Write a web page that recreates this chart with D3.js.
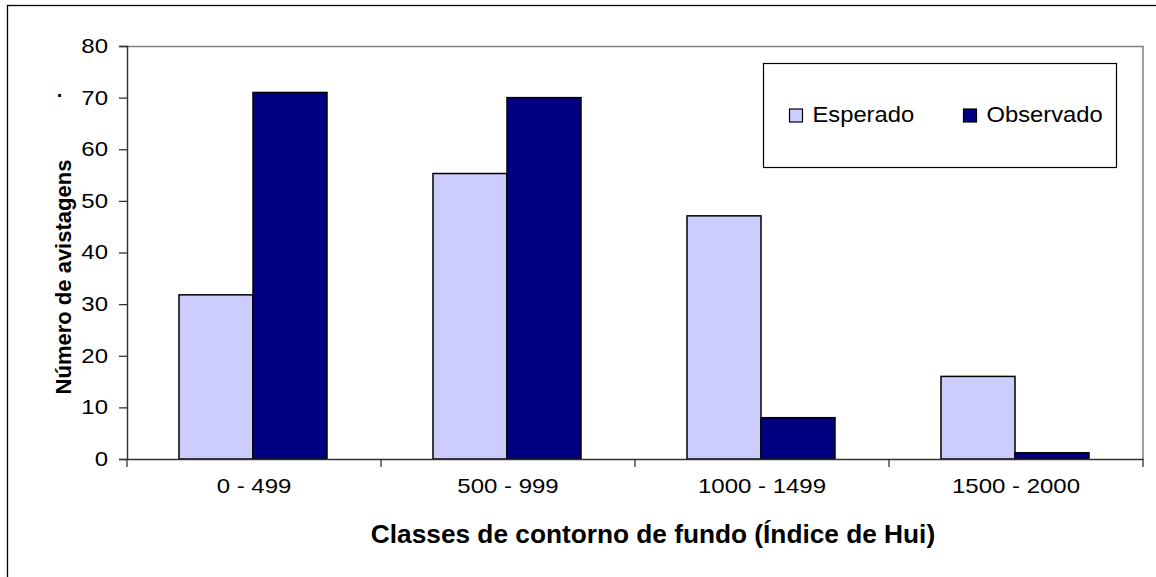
<!DOCTYPE html>
<html lang="pt">
<head>
  <meta charset="UTF-8">
  <title>Número de avistagens por classe de contorno de fundo</title>
  <script src="https://d3js.org/d3.v7.min.js"></script>
  <style>
    body { margin: 0; background: #fff; }
    svg { font-family: "Liberation Sans", Arial, sans-serif; }
  </style>
</head>
<body>
<div id="chart"></div>
<script>
  // data
  var classes = ["0 - 499", "500 - 999", "1000 - 1499", "1500 - 2000"];
  var esperado = [31.8, 55.3, 47.1, 16];
  var observado = [71, 70, 8, 1.2];
  var seriesNames = ["Esperado", "Observado"];
  var yTicks = [0, 10, 20, 30, 40, 50, 60, 70, 80];

  var W = 1156, H = 577;
  var margin = { top: 46, right: 13, bottom: 118, left: 127 },
    width = W - margin.left - margin.right,
    height = H - margin.top - margin.bottom;

  var colors = { Esperado: "#ccccff", Observado: "#000080" };
  // the source text is a bit wider than normal Arial
  var stretch = 1.2;

  var svg = d3.select("#chart").append("svg")
    .attr("width", W)
    .attr("height", H);

  // outer chart frame (runs off the right and bottom of the picture)
  svg.append("rect")
    .attr("x", 7.5).attr("y", 5.5)
    .attr("width", W + 10).attr("height", H + 10)
    .attr("fill", "none")
    .attr("stroke", "#000")
    .attr("stroke-width", 1.3);

  var g = svg.append("g")
    .attr("transform", "translate(" + margin.left + "," + margin.top + ")");

  var x0 = d3.scaleBand().domain(classes).range([0, width]);
  var x1 = d3.scaleBand().domain(seriesNames).range([52, 52 + 148]);
  var y = d3.scaleLinear().domain([0, 80]).range([height, 0]);

  // plot area top and right borders
  g.append("path")
    .attr("d", "M0,0.5H" + width + "V" + height)
    .attr("fill", "none")
    .attr("stroke", "#808080")
    .attr("stroke-width", 1.5);

  // bars
  var rows = classes.map(function(c, i) {
    return { cls: c, values: [
      { key: "Esperado", value: esperado[i] },
      { key: "Observado", value: observado[i] }
    ] };
  });

  var groups = g.selectAll(".grp")
    .data(rows)
    .enter().append("g")
    .attr("class", "grp")
    .attr("transform", function(d) { return "translate(" + x0(d.cls) + ",0)"; });

  groups.selectAll("rect")
    .data(function(d) { return d.values; })
    .enter().append("rect")
    .attr("x", function(d) { return x1(d.key); })
    .attr("y", function(d) { return y(d.value); })
    .attr("width", x1.bandwidth())
    .attr("height", function(d) { return height - y(d.value); })
    .attr("fill", function(d) { return colors[d.key]; })
    .attr("stroke", "#000")
    .attr("stroke-width", 1.5);

  // Y axis
  var yAxis = g.append("g")
    .call(d3.axisLeft(y).tickValues(yTicks).tickSize(8).tickPadding(11));
  yAxis.select(".domain").attr("stroke", "#333").attr("stroke-width", 1.5);
  yAxis.selectAll(".tick line").attr("stroke", "#333").attr("stroke-width", 1.3);
  yAxis.selectAll("text")
    .attr("font-size", "20px")
    .attr("fill", "#000")
    .attr("x", -19 / stretch)
    .attr("transform", "scale(" + stretch + ",1)");

  // X axis with ticks at category boundaries
  var xAxis = g.append("g")
    .attr("transform", "translate(0," + height + ")")
    .call(d3.axisBottom(x0).tickSize(0).tickPadding(20));
  xAxis.select(".domain").attr("stroke", "#333").attr("stroke-width", 1.5);
  xAxis.selectAll("text")
    .attr("font-size", "20px")
    .attr("fill", "#000")
    .attr("transform", "scale(" + stretch + ",1)");
  xAxis.selectAll(".bound")
    .data(classes.concat(["end"]))
    .enter().append("line")
    .attr("class", "bound")
    .attr("x1", function(d, i) { return i * x0.step(); })
    .attr("x2", function(d, i) { return i * x0.step(); })
    .attr("y1", 0).attr("y2", 8)
    .attr("stroke", "#333")
    .attr("stroke-width", 1.3);

  // axis titles
  svg.append("g")
    .attr("transform", "translate(653,543) scale(1.05,1)")
    .append("text")
    .attr("text-anchor", "middle")
    .attr("font-size", "25px")
    .attr("font-weight", "bold")
    .text("Classes de contorno de fundo (Índice de Hui)");

  svg.append("text")
    .attr("transform", "translate(71,277) rotate(-90)")
    .attr("text-anchor", "middle")
    .attr("font-size", "22px")
    .attr("font-weight", "bold")
    .text("Número de avistagens");

  // stray dot next to the 70 tick
  svg.append("text")
    .attr("x", 60).attr("y", 102)
    .attr("text-anchor", "middle")
    .attr("font-size", "20px")
    .attr("font-weight", "bold")
    .text("·");

  // legend
  var legend = svg.append("g").attr("transform", "translate(763.5,63.5)");
  legend.append("rect")
    .attr("width", 353).attr("height", 104)
    .attr("fill", "#fff")
    .attr("stroke", "#000")
    .attr("stroke-width", 1.2);

  var items = legend.selectAll(".item")
    .data(seriesNames)
    .enter().append("g")
    .attr("class", "item")
    .attr("transform", function(d, i) { return "translate(" + (26 + i * 174) + ",45.5)"; });

  items.append("rect")
    .attr("width", 13).attr("height", 13)
    .attr("fill", function(d) { return colors[d]; })
    .attr("stroke", "#000")
    .attr("stroke-width", 1.2);

  items.append("text")
    .attr("x", 23 / 1.08)
    .attr("y", 12.5)
    .attr("transform", "scale(1.08,1)")
    .attr("font-size", "22px")
    .text(function(d) { return d; });
</script>
</body>
</html>
